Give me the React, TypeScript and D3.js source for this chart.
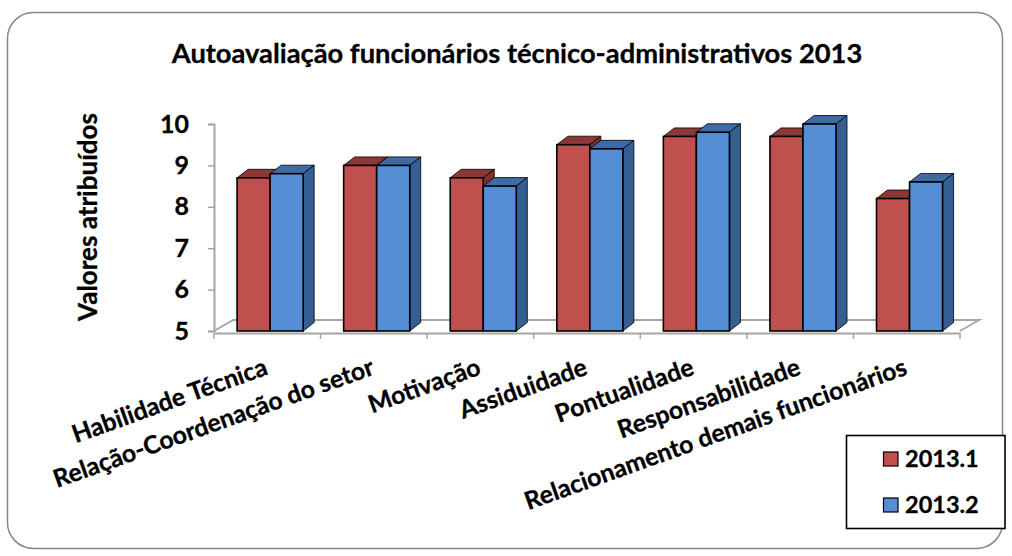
import React, { useRef, useEffect } from "react";
import * as d3 from "d3";

const title = "Autoavaliação funcionários técnico-administrativos 2013";
const yTitle = "Valores atribuídos";
const categories = [
  "Habilidade Técnica",
  "Relação-Coordenação do setor",
  "Motivação",
  "Assiduidade",
  "Pontualidade",
  "Responsabilidade",
  "Relacionamento demais funcionários",
];
const seriesNames = ["2013.1", "2013.2"];
const values1 = [8.7, 9, 8.7, 9.5, 9.7, 9.7, 8.2];
const values2 = [8.8, 9, 8.5, 9.4, 9.8, 10, 8.6];
const yTicks = [5, 6, 7, 8, 9, 10];

const fills = ["#c0504d", "#558ed5"];
const tops = ["#8c3836", "#3e6ba3"];
const sides = ["#7f2f2d", "#355f92"];
const font = "Lato, 'Open Sans', sans-serif";

function App() {
  const svgRef = useRef<SVGSVGElement>(null);

  useEffect(() => {
    d3.select(svgRef.current).selectAll("*").remove();

    const width = 1012;
    const height = 556;
    const left = 214;
    const right = 960;
    const depthX = 11;
    const depthY = 8.5;

    const svg = d3.select(svgRef.current)
      .attr("width", width)
      .attr("height", height)
      .style("position", "absolute")
      .style("left", 0)
      .style("top", 0)
      .style("background", "#fff")
      .style("font-family", font);

    svg.append("rect")
      .attr("x", 7.5)
      .attr("y", 12.5)
      .attr("width", 995)
      .attr("height", 536)
      .attr("rx", 26)
      .attr("fill", "#fff")
      .attr("stroke", "#868686")
      .attr("stroke-width", 1.5);

    svg.append("text")
      .attr("x", 517)
      .attr("y", 63)
      .attr("text-anchor", "middle")
      .attr("font-size", 27.3)
      .attr("font-weight", 700)
      .attr("stroke", "#000")
      .attr("stroke-width", 0.3)
      .text(title);

    // scales
    const xScale = d3.scaleBand()
      .domain(categories)
      .range([left, right])
      .paddingInner(0.38)
      .paddingOuter(0.19)
      .align(0.57);

    const xInner = d3.scaleBand()
      .domain(seriesNames)
      .range([0, xScale.bandwidth()]);

    const yScale = d3.scaleLinear()
      .domain([5, 10])
      .range([331, 124]);

    const base = yScale(5);
    const step = xScale.step();

    // floor, drawn as a skewed plane behind the bars
    const axisColor = "#a6a6a6";
    const floor = d3.line()([
      [left, base],
      [left + 19, base - 11],
      [right + 19, base - 11],
      [right, base],
    ]);
    svg.append("path")
      .attr("d", floor)
      .attr("fill", "none")
      .attr("stroke", axisColor)
      .attr("stroke-width", 2);

    // axes
    const xAxis = d3.axisBottom(xScale).tickValues([]).tickSize(0);
    svg.append("g")
      .attr("transform", `translate(0,${base + 2})`)
      .call(xAxis)
      .call((g) => g.select(".domain").attr("stroke", axisColor).attr("stroke-width", 2));

    svg.append("g")
      .selectAll("line")
      .data(d3.range(categories.length + 1))
      .join("line")
      .attr("x1", (i) => left + i * step)
      .attr("x2", (i) => left + i * step)
      .attr("y1", base + 2)
      .attr("y2", base + 8)
      .attr("stroke", axisColor)
      .attr("stroke-width", 1.5);

    const yAxis = d3.axisLeft(yScale)
      .tickValues(yTicks)
      .tickSize(6)
      .tickPadding(19)
      .tickFormat(d3.format("d"));

    const yG = svg.append("g")
      .attr("transform", `translate(${left},0)`)
      .call(yAxis);
    yG.select(".domain").attr("stroke", axisColor).attr("stroke-width", 2);
    yG.selectAll(".tick line").attr("stroke", axisColor).attr("stroke-width", 1.5);
    yG.selectAll(".tick text")
      .attr("fill", "#000")
      .attr("stroke", "#000")
      .attr("stroke-width", 0.3)
      .attr("font-family", font)
      .attr("font-size", 25)
      .attr("font-weight", 700);

    svg.append("text")
      .attr("transform", "translate(97,217) rotate(-90)")
      .attr("text-anchor", "middle")
      .attr("font-size", 26)
      .attr("font-weight", 700)
      .attr("stroke", "#000")
      .attr("stroke-width", 0.3)
      .text(yTitle);

    // bars
    [values1, values2].forEach((values, s) => {
      const name = seriesNames[s];
      const w = xInner.bandwidth();
      const g = svg.append("g");
      const group = g.selectAll("g")
        .data(values)
        .join("g")
        .attr("transform", (_, i) => `translate(${(xScale(categories[i]) as number) + (xInner(name) as number)},0)`);

      group.append("path")
        .attr("d", (d) => {
          const y = yScale(d);
          return `M0,${y}l${depthX},${-depthY}h${w}l${-depthX},${depthY}Z`;
        })
        .attr("fill", tops[s])
        .attr("stroke", "#000")
        .attr("stroke-width", 0.8);

      group.append("path")
        .attr("d", (d) => {
          const y = yScale(d);
          return `M${w},${y}l${depthX},${-depthY}V${base - depthY}L${w},${base}Z`;
        })
        .attr("fill", sides[s])
        .attr("stroke", "#000")
        .attr("stroke-width", 0.8);

      group.append("rect")
        .attr("x", 0)
        .attr("y", (d) => yScale(d))
        .attr("width", w)
        .attr("height", (d) => base - yScale(d))
        .attr("fill", fills[s])
        .attr("stroke", "#000")
        .attr("stroke-width", 1.6);
    });

    // category labels
    svg.append("g")
      .selectAll("text")
      .data(categories)
      .join("text")
      .attr("transform", (d) => `translate(${(xScale(d) as number) + xScale.bandwidth() / 2 - 1},${374}) rotate(-19.7)`)
      .attr("text-anchor", "end")
      .attr("font-size", 24.8)
      .attr("font-weight", 700)
      .attr("stroke", "#000")
      .attr("stroke-width", 0.3)
      .text((d) => d);

    // legend
    svg.append("rect")
      .attr("x", 846.5)
      .attr("y", 435.5)
      .attr("width", 158.5)
      .attr("height", 93)
      .attr("fill", "#fff")
      .attr("stroke", "#000")
      .attr("stroke-width", 1.6);

    const legendY = d3.scalePoint()
      .domain(seriesNames)
      .range([459, 505]);

    const legend = svg.append("g")
      .selectAll("g")
      .data(seriesNames)
      .join("g")
      .attr("transform", (d) => `translate(0,${legendY(d)})`);

    legend.append("rect")
      .attr("x", 883.5)
      .attr("y", -7)
      .attr("width", 14.5)
      .attr("height", 14)
      .attr("fill", (_, i) => fills[i])
      .attr("stroke", "#000")
      .attr("stroke-width", 1.2);

    legend.append("text")
      .attr("x", 905)
      .attr("y", 8)
      .attr("font-size", 23.5)
      .attr("font-weight", 700)
      .attr("stroke", "#000")
      .attr("stroke-width", 0.3)
      .text((d) => d);
  }, []);

  return (
    <div>
      <svg ref={svgRef}></svg>
    </div>
  );
}

export default App;
